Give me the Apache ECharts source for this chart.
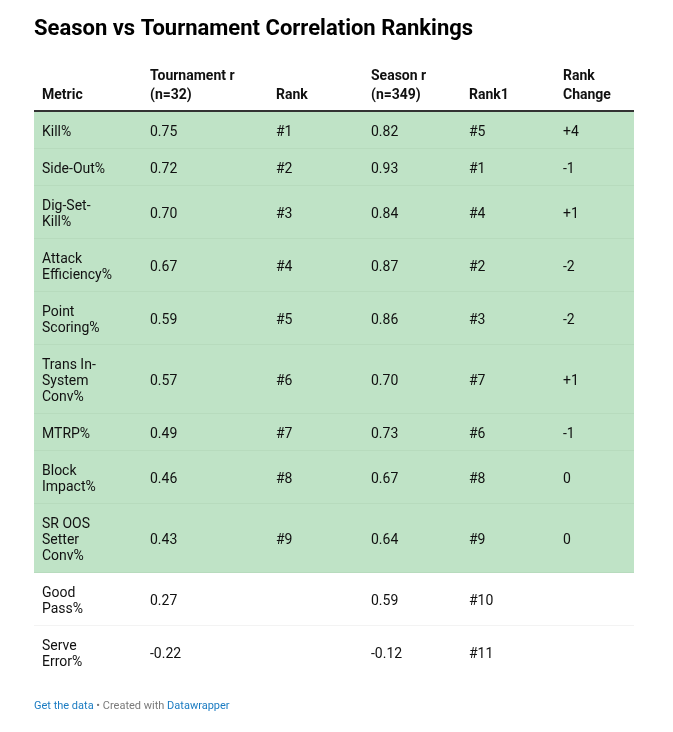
<!DOCTYPE html>
<html>
<head>
<meta charset="utf-8">
<script src="https://cdn.jsdelivr.net/npm/echarts@6/dist/echarts.min.js"></script>
<style>
  html, body { margin: 0; padding: 0; background: #fff; }
  #table { width: 673px; height: 732px; }
</style>
</head>
<body>
<div id="table"></div>
<script>
var chart = echarts.init(document.getElementById('table'));

// table data
var metrics = ['Kill%', 'Side-Out%', 'Dig-Set-\nKill%', 'Attack\nEfficiency%', 'Point\nScoring%',
               'Trans In-\nSystem\nConv%', 'MTRP%', 'Block\nImpact%', 'SR OOS\nSetter\nConv%',
               'Good\nPass%', 'Serve\nError%'];
var tournamentR = [0.75, 0.72, 0.70, 0.67, 0.59, 0.57, 0.49, 0.46, 0.43, 0.27, -0.22];
var tournamentRank = [1, 2, 3, 4, 5, 6, 7, 8, 9, null, null];
var seasonR = [0.82, 0.93, 0.84, 0.87, 0.86, 0.70, 0.73, 0.67, 0.64, 0.59, -0.12];
var seasonRank = [5, 1, 4, 2, 3, 7, 6, 8, 9, 10, 11];
var rankChange = ['+4', '-1', '+1', '-2', '-2', '+1', '-1', '0', '0', '', ''];
var headers = ['Metric', 'Tournament r\n(n=32)', 'Rank', 'Season r\n(n=349)', 'Rank1', 'Rank\nChange'];

// layout
var FONT = 'Roboto, "Noto Sans", sans-serif';
var colX = [8, 116, 242, 337, 435, 529];   // text offsets inside the 600px table
var tableW = 600;
var lineH = 16;
var green = '#bfe3c6';
var ink = '#111';

// row heights depend on how many lines the metric name wraps to
var rowTop = [], rowH = [], acc = 0;
metrics.forEach(function (m) {
    var h = 21 + lineH * m.split('\n').length;
    rowTop.push(acc);
    rowH.push(h);
    acc += h;
});
var totalH = acc;

function fmt(v) { return v.toFixed(2); }

var headerEls = headers.map(function (h, j) {
    return {
        type: 'text',
        left: 34 + colX[j],
        bottom: 732 - 105,
        style: { text: h, font: 'bold 14px ' + FONT, fill: ink, lineHeight: 19 }
    };
});

var option = {
    animation: false,
    title: {
        text: 'Season vs Tournament Correlation Rankings',
        left: 34,
        top: 18,
        padding: 0,
        textStyle: { fontFamily: FONT, fontSize: 22, fontWeight: 'bold', color: '#000' }
    },
    grid: { left: 34, top: 112, width: tableW, height: totalH },
    xAxis: { type: 'value', min: 0, max: tableW, show: false },
    yAxis: { type: 'value', min: 0, max: totalH, inverse: true, show: false },
    graphic: headerEls.concat([
        {
            type: 'line',
            shape: { x1: 34, y1: 111, x2: 34 + tableW, y2: 111 },
            style: { stroke: '#333', lineWidth: 2 }
        },
        {
            type: 'text',
            left: 34,
            top: 701,
            style: {
                text: '{a|Get the data} {b|• Created with} {a|Datawrapper}',
                font: '11px ' + FONT,
                rich: {
                    a: { fill: '#1b7cc2', fontFamily: FONT, fontSize: 11 },
                    b: { fill: '#7a7a7a', fontFamily: FONT, fontSize: 11 }
                }
            }
        }
    ]),
    series: [{
        type: 'custom',
        data: metrics.map(function (m, i) { return [i]; }),
        renderItem: function (params, api) {
            var i = api.value(0);
            var top = api.coord([0, rowTop[i]]);
            var bot = api.coord([tableW, rowTop[i] + rowH[i]]);
            var x0 = top[0], y0 = top[1], x1 = bot[0], y1 = bot[1];
            var hi = tournamentRank[i] != null;
            var cells = [
                metrics[i],
                fmt(tournamentR[i]),
                hi ? '#' + tournamentRank[i] : '',
                fmt(seasonR[i]),
                '#' + seasonRank[i],
                rankChange[i]
            ];
            var children = [{
                type: 'rect',
                shape: { x: x0, y: y0, width: x1 - x0, height: y1 - y0 },
                style: { fill: hi ? green : '#fff' }
            }];
            if (i < metrics.length - 1) {
                children.push({
                    type: 'line',
                    shape: { x1: x0, y1: y1, x2: x1, y2: y1 },
                    style: { stroke: hi ? '#aed2b4' : '#e6e6e6', lineWidth: 1 }
                });
            }
            cells.forEach(function (c, j) {
                children.push({
                    type: 'text',
                    style: {
                        text: c,
                        x: x0 + colX[j],
                        y: (y0 + y1) / 2 + 2,
                        verticalAlign: 'middle',
                        font: '14px ' + FONT,
                        lineHeight: lineH,
                        fill: ink
                    }
                });
            });
            return { type: 'group', children: children };
        }
    }]
};

chart.setOption(option);
</script>
</body>
</html>
